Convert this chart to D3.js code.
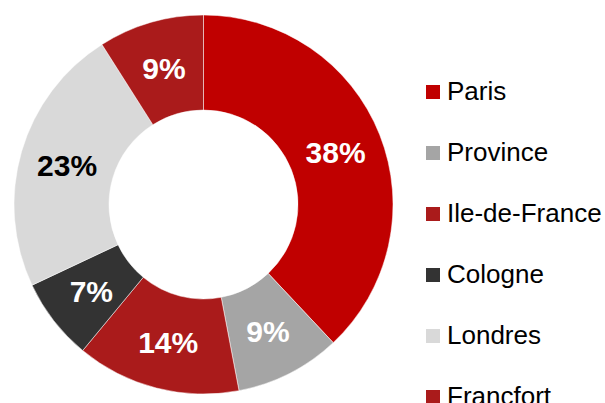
<!DOCTYPE html>
<html lang="fr">
<head>
<meta charset="UTF-8">
<title>Répartition</title>
<script src="https://cdn.jsdelivr.net/npm/d3@7"></script>
<style>
  html, body { margin: 0; padding: 0; background: #fff; }
  svg { display: block; font-family: Arial, "Liberation Sans", sans-serif; }
</style>
</head>
<body>
<div id="chart"></div>
<script>
// data
const cities = ["Paris", "Province", "Ile-de-France", "Cologne", "Londres", "Francfort"];
const shares = [38, 9, 14, 7, 23, 9];
const colors = ["#c00000", "#a5a5a5", "#aa1b1b", "#333333", "#d9d9d9", "#aa1b1b"];
const labelColors = ["#fff", "#fff", "#fff", "#fff", "#000", "#fff"];

const W = 605, H = 403;
const cx = 203.5, cy = 204.5;
const rOuter = 189.5, rInner = 94.5;

const svg = d3.select("#chart").append("svg")
    .attr("width", W).attr("height", H);

const rows = cities.map((c, i) => ({ city: c, value: shares[i], i: i }));

const pie = d3.pie().sort(null).value(d => d.value);
const arc = d3.arc().innerRadius(rInner).outerRadius(rOuter);

const g = svg.append("g").attr("transform", `translate(${cx},${cy})`);

const slices = g.selectAll("g.slice")
    .data(pie(rows))
    .enter().append("g").attr("class", "slice");

slices.append("path")
    .attr("d", arc)
    .attr("fill", d => colors[d.data.i])
    .attr("stroke", "#fff")
    .attr("stroke-width", 0.5);

slices.append("text")
    .attr("transform", d => `translate(${arc.centroid(d)})`)
    .attr("text-anchor", "middle")
    .attr("dy", "0.36em")
    .attr("font-size", 30)
    .attr("font-weight", "bold")
    .attr("fill", d => labelColors[d.data.i])
    .text(d => d.data.value + "%");

// legend
const legendY = d3.scalePoint()
    .domain(cities)
    .range([100, 405]);

const legend = svg.append("g");
const item = legend.selectAll("g")
    .data(rows)
    .enter().append("g")
    .attr("transform", d => `translate(426,${legendY(d.city)})`);

item.append("rect")
    .attr("x", 0).attr("y", -15)
    .attr("width", 14).attr("height", 14)
    .attr("fill", d => colors[d.i]);

item.append("text")
    .attr("x", 21)
    .attr("y", 0)
    .attr("font-size", 26)
    .attr("fill", "#000")
    .text(d => d.city);
</script>
</body>
</html>
